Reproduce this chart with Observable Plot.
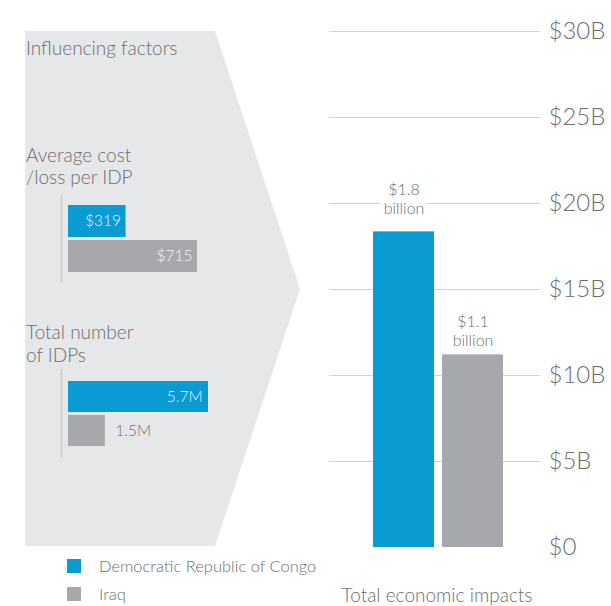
<!DOCTYPE html>
<html>
<head>
<meta charset="utf-8">
<script src="https://cdn.jsdelivr.net/npm/d3@7"></script>
<script src="https://cdn.jsdelivr.net/npm/@observablehq/plot@0.6"></script>
<style>
  html, body { margin: 0; padding: 0; background: #fff; }
  #wrap { position: relative; width: 611px; height: 606px; overflow: hidden; font-family: Lato, "Open Sans", sans-serif; font-weight: 300; }
  #wrap svg { position: absolute; left: 0; top: 0; }
</style>
</head>
<body>
<div id="wrap"></div>
<script>
// ---- data ----
const countries = ["Democratic Republic of Congo", "Iraq"];
const colors = ["#0b9bd3", "#a7a8ab"];
const totalImpactB = [18.35, 11.2];
const totalLabels = ["$1.8\nbillion", "$1.1\nbillion"];
const yTicks = [0, 5, 10, 15, 20, 25, 30];
const costPerIDP = [319, 715];
const costLabels = ["$319", "$715"];
const idpsM = [5.7, 1.5];
const idpLabels = ["5.7M", "1.5M"];
const factorTitle = "Influencing factors";
const costTitle = ["Average cost", "/loss per IDP"];
const idpTitle = ["Total number", "of IDPs"];
const impactTitle = "Total economic impacts";

const textColor = "#6d6e71";
const font = "Lato, 'Open Sans', sans-serif";

const impact = countries.map((c, i) => ({country: c, value: totalImpactB[i], label: totalLabels[i]}));
const cost = countries.map((c, i) => ({country: c, value: costPerIDP[i], label: costLabels[i]}));
const idps = countries.map((c, i) => ({country: c, value: idpsM[i], label: idpLabels[i]}));

const wrap = document.getElementById("wrap");

// ---- background chevron + static texts ----
const bg = d3.create("svg").attr("width", 611).attr("height", 606).style("font-family", font);
bg.append("path").attr("d", "M25,31 L215,31 L300,289 L215,546 L25,546 Z").attr("fill", "#e6e7e8");
const addText = (t, x, y, size, anchor = "start") =>
  bg.append("text").attr("x", x).attr("y", y).attr("font-size", size).attr("fill", textColor)
    .attr("text-anchor", anchor).text(t);
addText(factorTitle, 26, 55, 19);
addText(costTitle[0], 26, 162, 19);
addText(costTitle[1], 26, 184, 19);
addText(idpTitle[0], 26, 339, 19);
addText(idpTitle[1], 26, 362, 19);
addText(impactTitle, 437, 602, 19, "middle");
// legend
countries.forEach((c, i) => {
  bg.append("rect").attr("x", 67).attr("y", 559 + i * 28).attr("width", 14).attr("height", 14).attr("fill", colors[i]);
  addText(c, 99, 572 + i * 28, 16.5);
});
wrap.appendChild(bg.node());

const common = {
  width: 611, height: 606,
  style: {fontFamily: font, background: "transparent", overflow: "visible"},
  color: {domain: countries, range: colors}
};

// ---- main chart: total economic impacts ----
wrap.appendChild(Plot.plot({
  ...common,
  marginLeft: 329, marginRight: 71, marginTop: 31, marginBottom: 59,
  x: {type: "band", domain: countries, range: [373, 503], paddingInner: 0.116, paddingOuter: 0, axis: null},
  y: {domain: [0, 30]},
  marks: [
    Plot.ruleY(yTicks.filter(d => d > 0), {stroke: "#d1d2d4", strokeWidth: 1}),
    Plot.barY(impact, {x: "country", y: "value", fill: "country"}),
    Plot.text(impact, {filter: (d, i) => i === 0, x: "country", y: "value", text: "label", lineAnchor: "bottom",
      dy: -18, lineHeight: 1.2, fontSize: 16, fill: textColor, stroke: "white", strokeWidth: 10, paintOrder: "stroke"}),
    Plot.text(impact, {filter: (d, i) => i === 1, x: "country", y: "value", text: "label", lineAnchor: "bottom",
      dy: -9, lineHeight: 1.2, fontSize: 16, fill: textColor}),
    Plot.axisY({ticks: yTicks, anchor: "right", tickSize: 0, tickPadding: 8, fontSize: 24, color: textColor,
      label: null, tickFormat: d => d === 0 ? "$0" : `$${d}B`})
  ]
}));

// ---- mini chart: average cost per IDP ----
wrap.appendChild(Plot.plot({
  ...common,
  marginLeft: 61, marginRight: 400, marginTop: 195, marginBottom: 323,
  x: {domain: [0, 715], range: [68, 197], axis: null},
  y: {type: "band", domain: countries, range: [204, 273], paddingInner: 0.0833, paddingOuter: 0, axis: null},
  marks: [
    Plot.ruleX([0], {dx: -7, stroke: "#cfd0d2", strokeWidth: 2}),
    Plot.barX(cost, {x: "value", y: "country", fill: "country"}),
    Plot.text(cost, {x: "value", y: "country", text: "label", textAnchor: "end", dx: -5, fill: "white",
      fillOpacity: 0.92, fontSize: 15.5})
  ]
}));

// ---- mini chart: total number of IDPs ----
wrap.appendChild(Plot.plot({
  ...common,
  marginLeft: 61, marginRight: 400, marginTop: 369, marginBottom: 149,
  x: {domain: [0, 5.7], range: [68, 208], axis: null},
  y: {type: "band", domain: countries, range: [380, 447], paddingInner: 0.0857, paddingOuter: 0, axis: null},
  marks: [
    Plot.ruleX([0], {dx: -7, stroke: "#cfd0d2", strokeWidth: 2}),
    Plot.barX(idps, {x: "value", y: "country", fill: "country"}),
    Plot.text(idps, {filter: (d, i) => i === 0, x: "value", y: "country", text: "label", textAnchor: "end",
      dx: -6, fill: "white", fillOpacity: 0.92, fontSize: 15.5}),
    Plot.text(idps, {filter: (d, i) => i === 1, x: "value", y: "country", text: "label", textAnchor: "start",
      dx: 10, fill: textColor, fontSize: 15.5})
  ]
}));
</script>
</body>
</html>
